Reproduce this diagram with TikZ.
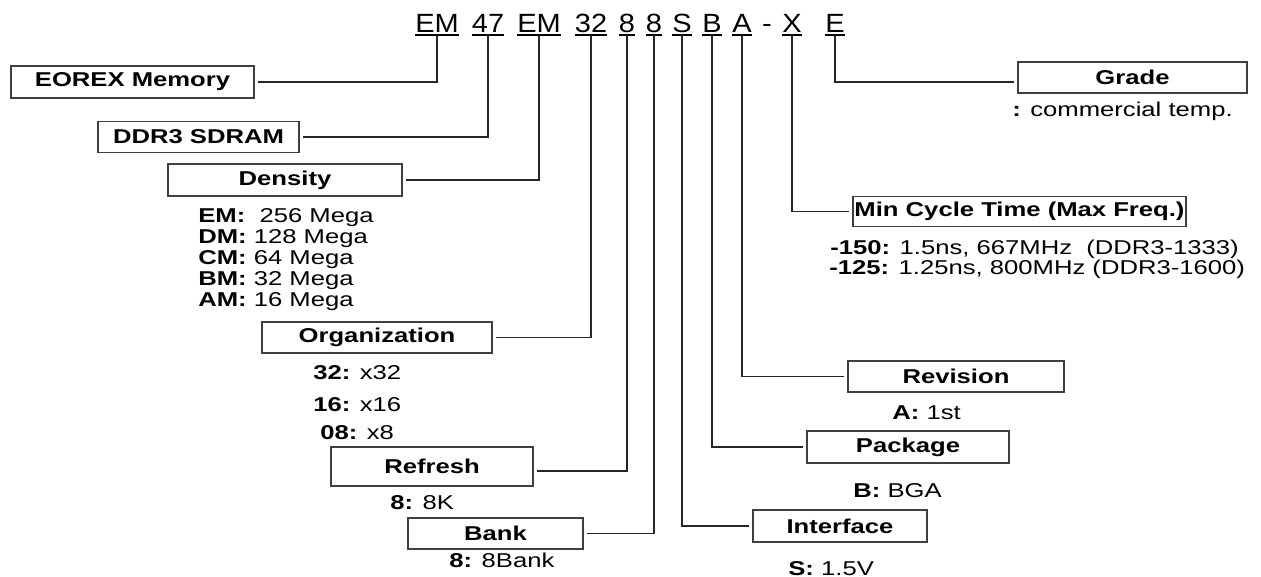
\documentclass[tikz,border=0pt]{standalone}
\usepackage{fontspec}
\setmainfont{Liberation Sans}[FakeStretch=1.28]
\newfontfamily\codefont{Liberation Sans}[FakeStretch=1.1]
\begin{document}
\begin{tikzpicture}[x=0.02cm,y=-0.02cm,
  bx/.style 2 args={draw=black!75, line width=0.7pt, minimum width=#1*0.02cm, minimum height=#2*0.02cm, inner sep=0pt, font=\fontsize{11.4}{13}\selectfont\bfseries},
  code/.style={inner sep=0pt, anchor=base, font=\codefont\fontsize{15}{18}\selectfont},
  val/.style={inner sep=0pt, anchor=base west, font=\fontsize{11.4}{13}\selectfont},
  conn/.style={draw=black!85, line width=0.7pt, shorten >=0.06cm},
  uline/.style={line width=0.7pt}]
\useasboundingbox (0,0) rectangle (1261,577);

% part number characters
\node[code] (c1) at (437,33) {EM};
\node[code] (c2) at (488,33) {47};
\node[code] (c3) at (539,33) {EM};
\node[code] (c4) at (591,33) {32};
\node[code] (c5) at (627,33) {8};
\node[code] (c6) at (654,33) {8};
\node[code] (c7) at (682,33) {S};
\node[code] (c8) at (712,33) {B};
\node[code] (c9) at (742,33) {A};
\node[code] (cd) at (767,33) {-};
\node[code] (c10) at (792,33) {X};
\node[code] (c11) at (835,33) {E};
\foreach \n in {c1,c2,c3,c4,c5,c6,c7,c8,c9,c10,c11}
  \draw[uline] ([yshift=-0.04cm]\n.base west) -- ([yshift=-0.04cm]\n.base east);

% boxes
\node[bx={243}{32}] (eorex) at (132.5,82) {EOREX Memory};
\node[bx={201}{31}] (ddr) at (198.5,137) {DDR3 SDRAM};
\node[bx={234}{32}] (dens) at (285,180) {Density};
\node[bx={230}{31}] (org) at (377,337.5) {Organization};
\node[bx={202}{39}] (refr) at (432,466.5) {Refresh};
\node[bx={175}{31}] (bank) at (495.5,533.5) {Bank};
\node[bx={229}{31}] (grade) at (1132.5,77.5) {Grade};
\node[bx={333}{30}] (mct) at (1019.5,211.5) {Min Cycle Time (Max Freq.)};
\node[bx={216}{31}] (rev) at (956,376.5) {Revision};
\node[bx={202}{32}] (pack) at (908,447) {Package};
\node[bx={174}{32}] (intf) at (840,526) {Interface};

% connectors
\draw[conn] ([yshift=-0.04cm]c1.base) |- (eorex.east);
\draw[conn] ([yshift=-0.04cm]c2.base) |- (ddr.east);
\draw[conn] ([yshift=-0.04cm]c3.base) |- (dens.east);
\draw[conn] ([yshift=-0.04cm]c4.base) |- (org.east);
\draw[conn] ([yshift=-0.04cm]c5.base) |- ([yshift=-0.09cm]refr.east);
\draw[conn] ([yshift=-0.04cm]c6.base) |- (bank.east);
\draw[conn] ([yshift=-0.04cm]c7.base) |- (intf.west);
\draw[conn] ([yshift=-0.04cm]c8.base) |- (pack.west);
\draw[conn] ([yshift=-0.04cm]c9.base) |- (rev.west);
\draw[conn] ([yshift=-0.04cm]c10.base) |- (mct.west);
\draw[conn] ([yshift=-0.04cm]c11.base) |- ([yshift=-0.09cm]grade.west);

% values
\node[val] (d1) at (198,223) {\textbf{EM:}\ \ 256 Mega};
\node[val] (d2) at (198,244) {\textbf{DM:} 128 Mega};
\node[val] (d3) at (198,265) {\textbf{CM:} 64 Mega};
\node[val] (d4) at (198,286) {\textbf{BM:} 32 Mega};
\node[val] (d5) at (198,307) {\textbf{AM:} 16 Mega};
\node[val] (o1) at (313,379) {\textbf{32:} x32};
\node[val] (o2) at (313,412) {\textbf{16:} x16};
\node[val] (o3) at (320,439) {\textbf{08:} x8};
\node[val] (r1) at (390,509) {\textbf{8:} 8K};
\node[val] (b1) at (449,567) {\textbf{8:} 8Bank};
\node[val] (g1) at (1012,117) {\textbf{:} commercial temp.};
\node[val] (m1) at (830,255) {\textbf{-150:} 1.5ns, 667MHz\ \ (DDR3-1333)};
\node[val] (m2) at (829,275) {\textbf{-125:} 1.25ns, 800MHz (DDR3-1600)};
\node[val] (v1) at (892,419) {\textbf{A:} 1st};
\node[val] (p1) at (853,497) {\textbf{B:} BGA};
\node[val] (s1) at (788,575) {\textbf{S:} 1.5V};
\end{tikzpicture}
\end{document}
